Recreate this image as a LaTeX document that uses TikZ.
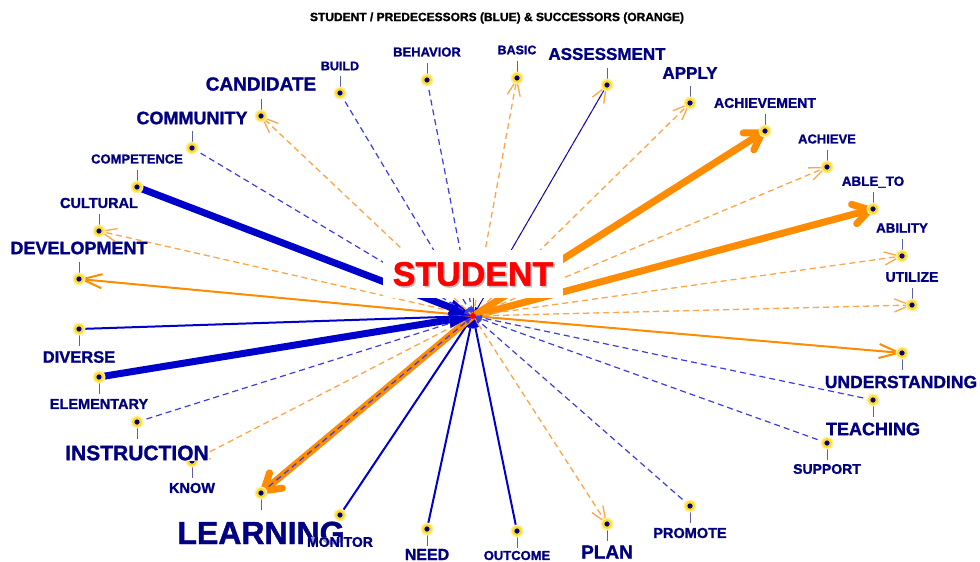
\documentclass[tikz,border=0pt]{standalone}
\usepackage{fontspec}
\setmainfont{Liberation Sans}[BoldFeatures={FakeBold=1.3}]
\usetikzlibrary{arrows.meta}
\definecolor{navytxt}{RGB}{0,0,128}
\definecolor{bluesolid}{RGB}{0,0,205}
\definecolor{bluedash}{RGB}{60,60,225}
\definecolor{orangesolid}{RGB}{255,140,0}
\definecolor{orangedash}{RGB}{255,165,70}
\definecolor{stemcol}{RGB}{95,95,165}
\definecolor{halo}{RGB}{255,218,40}
\definecolor{haloring}{RGB}{255,240,160}
\tikzset{
 bd/.style={draw=bluedash, line width=1.2pt, dash pattern=on 6pt off 4pt, -{Triangle[length=9pt,width=5pt,line width=0.5pt]}},
 bm/.style={draw=bluesolid, line width=2pt, -{Triangle[length=12pt,width=7pt,line width=0.5pt]}},
 bthin/.style={draw=bluesolid, line width=0.9pt, -{Triangle[length=9pt,width=5pt,line width=0.5pt]}},
 bt/.style={draw=bluesolid, line width=7pt, -{Triangle[length=24pt,width=16pt,line width=0.5pt]}},
 od/.style={draw=orangedash, line width=1.3pt, dash pattern=on 6pt off 4pt, -{Straight Barb[length=16pt,width=13pt]}},
 om/.style={draw=orangesolid, line width=2pt, -{Straight Barb[length=20pt,width=14pt]}},
 ot/.style={draw=orangesolid, line width=7pt, -{Straight Barb[length=16pt,width=20pt,line cap=round,line join=round]}},
 lbl/.style={text=navytxt, font=\bfseries\fontsize{#1}{#1}\selectfont, inner sep=0.5pt, fill=white},
 stemline/.style={draw=stemcol, line width=1pt},
}
\newcommand\mkdot[2]{%
 \draw[stemline] (#1) -- ++(0,#2*17);
 \fill[haloring] (#1) circle (6.5pt);
 \fill[halo] (#1) circle (5pt);
 \fill[navytxt] (#1) circle (2.6pt);}
\begin{document}
\begin{tikzpicture}[x=1pt,y=-1pt]
\useasboundingbox (0,0) rectangle (980,562);
\coordinate (c) at (473,316);
\coordinate (build) at (340,93);
\coordinate (behavior) at (427,80);
\coordinate (basic) at (517,78);
\coordinate (assessment) at (607,85);
\coordinate (apply) at (690,103);
\coordinate (achievement) at (765,131);
\coordinate (achieve) at (827,167);
\coordinate (ableto) at (873,209);
\coordinate (ability) at (902,256);
\coordinate (utilize) at (912,305);
\coordinate (understanding) at (902,353);
\coordinate (teaching) at (873,400);
\coordinate (support) at (827,443);
\coordinate (promote) at (690,506);
\coordinate (plan) at (607,524);
\coordinate (outcome) at (517,531);
\coordinate (need) at (427,529);
\coordinate (monitor) at (340,515);
\coordinate (learning) at (261,493);
\coordinate (know) at (192,461);
\coordinate (instruction) at (137,422);
\coordinate (elementary) at (99,377);
\coordinate (diverse) at (79,329);
\coordinate (development) at (79,279);
\coordinate (cultural) at (99,231);
\coordinate (competence) at (137,187);
\coordinate (community) at (192,148);
\coordinate (candidate) at (261,116);

% title
\node[font=\bfseries\fontsize{12}{12}\selectfont, text=black] (title) at (497,18) {STUDENT / PREDECESSORS (BLUE) \& SUCCESSORS (ORANGE)};

% edges
\draw[bd] (build) -- (c);
\draw[bd] (behavior) -- (c);
\draw[od] (c) -- (basic);
\draw[od] (c) -- (assessment);
\draw[bthin] (assessment) -- (c);
\draw[od] (c) -- (apply);
\draw[ot] (c) -- (achievement);
\draw[od] (c) -- (achieve);
\draw[ot] (c) -- (ableto);
\draw[od] (c) -- (ability);
\draw[od] (c) -- (utilize);
\draw[om] (c) -- (understanding);
\draw[bd] (teaching) -- (c);
\draw[bd] (support) -- (c);
\draw[bd] (promote) -- (c);
\draw[od] (c) -- (plan);
\draw[bm] (outcome) -- (c);
\draw[bm] (need) -- (c);
\draw[bm] (monitor) -- (c);
\draw[ot] (c) -- (learning);
\draw[bd] (learning) -- (c);
\draw[od] (c) -- (know);
\draw[bd] (instruction) -- (c);
\draw[bt] (elementary) -- (c);
\draw[bm] (diverse) -- (c);
\draw[om] (c) -- (development);
\draw[od] (c) -- (cultural);
\draw[bt] (competence) -- (c);
\draw[bd] (community) -- (c);
\draw[od] (c) -- (candidate);

% central label
\node[fill=white, minimum width=180pt, minimum height=48pt] (studentbox) at (473,274) {};
\draw[red, line width=1pt] (studentbox.south) -- (c);
\fill[red] (c) circle (3pt);
\node[text=black!25, font=\bfseries\fontsize{34}{34}\selectfont] (studentsh) at (474.5,275.5) {STUDENT};
\node[text=red, font=\bfseries\fontsize{34}{34}\selectfont] (student) at (473,274) {STUDENT};

% dots (-1 = label above, 1 = label below)
\mkdot{build}{-1}
\mkdot{behavior}{-1}
\mkdot{basic}{-1}
\mkdot{assessment}{-1}
\mkdot{apply}{-1}
\mkdot{achievement}{-1}
\mkdot{achieve}{-1}
\mkdot{ableto}{-1}
\mkdot{ability}{-1}
\mkdot{utilize}{-1}
\mkdot{understanding}{1}
\mkdot{teaching}{1}
\mkdot{support}{1}
\mkdot{promote}{1}
\mkdot{plan}{1}
\mkdot{outcome}{1}
\mkdot{need}{1}
\mkdot{monitor}{1}
\mkdot{learning}{1}
\mkdot{know}{1}
\mkdot{instruction}{1}
\mkdot{elementary}{1}
\mkdot{diverse}{1}
\mkdot{development}{-1}
\mkdot{cultural}{-1}
\mkdot{competence}{-1}
\mkdot{community}{-1}
\mkdot{candidate}{-1}

% labels
\node[lbl=12.5] (build-l) at (340,66) {BUILD};
\node[lbl=13] (behavior-l) at (427,52) {BEHAVIOR};
\node[lbl=12.5] (basic-l) at (517,50) {BASIC};
\node[lbl=17] (assessment-l) at (607,54) {ASSESSMENT};
\node[lbl=17] (apply-l) at (690,73) {APPLY};
\node[lbl=14] (achievement-l) at (765,103) {ACHIEVEMENT};
\node[lbl=13] (achieve-l) at (827,139) {ACHIEVE};
\node[lbl=13.4] (ableto-l) at (873,182) {ABLE\_TO};
\node[lbl=13.3] (ability-l) at (902,228) {ABILITY};
\node[lbl=14] (utilize-l) at (912,277) {UTILIZE};
\node[lbl=17.5] (understanding-l) at (901,382) {UNDERSTANDING};
\node[lbl=18] (teaching-l) at (873,429) {TEACHING};
\node[lbl=14] (support-l) at (827,469) {SUPPORT};
\node[lbl=14.5] (promote-l) at (690,533) {PROMOTE};
\node[lbl=19] (plan-l) at (607,552) {PLAN};
\node[lbl=13] (outcome-l) at (517,555.5) {OUTCOME};
\node[lbl=16] (need-l) at (427,554.5) {NEED};
\node[lbl=32] (learning-l) at (261,533) {LEARNING};
\node[lbl=14, fill opacity=0.6, text opacity=1] (monitor-l) at (340,542) {MONITOR};
\node[lbl=14.5] (know-l) at (192,488) {KNOW};
\node[lbl=21] (instruction-l) at (137,453) {INSTRUCTION};
\node[lbl=14.5] (elementary-l) at (99,404) {ELEMENTARY};
\node[lbl=16.5] (diverse-l) at (79,357) {DIVERSE};
\node[lbl=18] (development-l) at (79,248) {DEVELOPMENT};
\node[lbl=14.5] (cultural-l) at (99,203) {CULTURAL};
\node[lbl=13] (competence-l) at (137,159) {COMPETENCE};
\node[lbl=18] (community-l) at (192,118) {COMMUNITY};
\node[lbl=19] (candidate-l) at (261,84) {CANDIDATE};
\end{tikzpicture}
\end{document}
